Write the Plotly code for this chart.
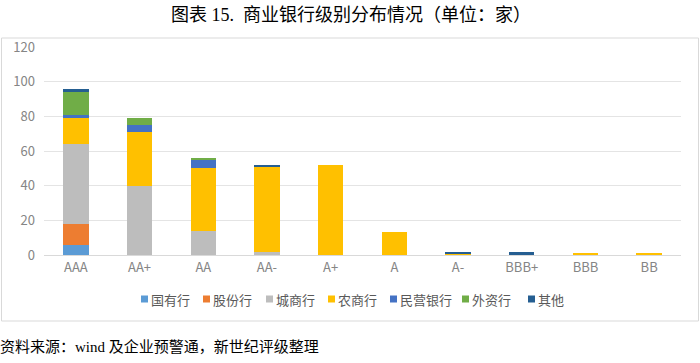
import plotly.graph_objects as go

categories = ["AAA", "AA+", "AA", "AA-", "A+", "A", "A-", "BBB+", "BBB", "BB"]
series_names = ["国有行", "股份行", "城商行", "农商行", "民营银行", "外资行", "其他"]
guoyou = [6, 0, 0, 0, 0, 0, 0, 0, 0, 0]
gufen = [12, 0, 0, 0, 0, 0, 0, 0, 0, 0]
chengshang = [46, 40, 14, 2, 0, 0, 0, 0, 0, 0]
nongshang = [15, 31, 36, 49, 52, 13, 1, 0, 1, 1]
minying = [2, 4, 5, 0, 0, 0, 0, 0, 0, 0]
waizi = [13, 4, 1, 0, 0, 0, 0, 0, 0, 0]
qita = [2, 0, 0, 1, 0, 0, 1, 2, 0, 0]
colors = ["#5B9BD5", "#ED7D31", "#BDBDBD", "#FFC000", "#4472C4", "#70AD47", "#255E91"]
y_ticks = [0, 20, 40, 60, 80, 100, 120]

all_series = [guoyou, gufen, chengshang, nongshang, minying, waizi, qita]

L, R, T, B = 44, 19, 47, 108
W, H = 700, 363
PW, PH = W - L - R, H - T - B


def px_x(px):
    return (px - L) / PW


def px_y(py):
    return (H - B - py) / PH


fig = go.Figure()
for name, vals, col in zip(series_names, all_series, colors):
    fig.add_trace(go.Bar(name=name, x=categories, y=vals, marker_color=col,
                         marker_line_width=0))

fig.update_layout(
    width=W, height=H,
    barmode="stack", bargap=0.6,
    paper_bgcolor="white", plot_bgcolor="white",
    margin=dict(l=L, r=R, t=T, b=B),
    font=dict(family="Noto Sans CJK SC, Liberation Sans", size=13, color="#595959"),
    xaxis=dict(showgrid=False, showline=True, linecolor="#D9D9D9", linewidth=1,
               ticks="", tickfont=dict(size=13, color="#858585")),
    yaxis=dict(range=[0, 120], tickvals=y_ticks, showgrid=True, gridcolor="#E4E4E4",
               gridwidth=1, zeroline=False, showline=False, ticks="",
               tickfont=dict(size=13, color="#858585"), ticklabelstandoff=8),
    showlegend=False,
)

# chart frame
fig.add_shape(type="rect", xref="paper", yref="paper",
              x0=px_x(1.5), x1=px_x(698.5), y0=px_y(321), y1=px_y(38),
              line=dict(color="#D9D9D9", width=1), fillcolor="rgba(0,0,0,0)", layer="below")

# legend (squares + labels)
legend_text_left = [151, 213, 276, 338, 400, 472, 538]
legend_y = 299
for name, col, tx in zip(series_names, colors, legend_text_left):
    fig.add_shape(type="rect", xref="paper", yref="paper",
                  x0=px_x(tx - 10), x1=px_x(tx - 3),
                  y0=px_y(legend_y + 3.5), y1=px_y(legend_y - 3.5),
                  line=dict(width=0), fillcolor=col)
    fig.add_annotation(text=name, xref="paper", yref="paper",
                       x=px_x(tx), y=px_y(legend_y), xanchor="left", yanchor="middle",
                       showarrow=False, xshift=-2,
                       font=dict(size=13, color="#595959"))

fig.add_annotation(text="图表 15.  商业银行级别分布情况（单位：家）", xref="paper", yref="paper",
                   x=px_x(351), y=px_y(15), xanchor="center", yanchor="middle",
                   showarrow=False,
                   font=dict(family="Liberation Serif, Noto Sans CJK SC", size=18, color="#000000"))
fig.add_annotation(text="资料来源：wind 及企业预警通，新世纪评级整理", xref="paper", yref="paper",
                   x=px_x(0), y=px_y(346), xanchor="left", yanchor="middle",
                   showarrow=False, xshift=-2,
                   font=dict(family="Liberation Serif, Noto Sans CJK SC", size=15, color="#000000"))

fig.write_html("out.html", config={"displayModeBar": False},
               post_script="document.body.style.margin='0';document.body.style.padding='0';")
